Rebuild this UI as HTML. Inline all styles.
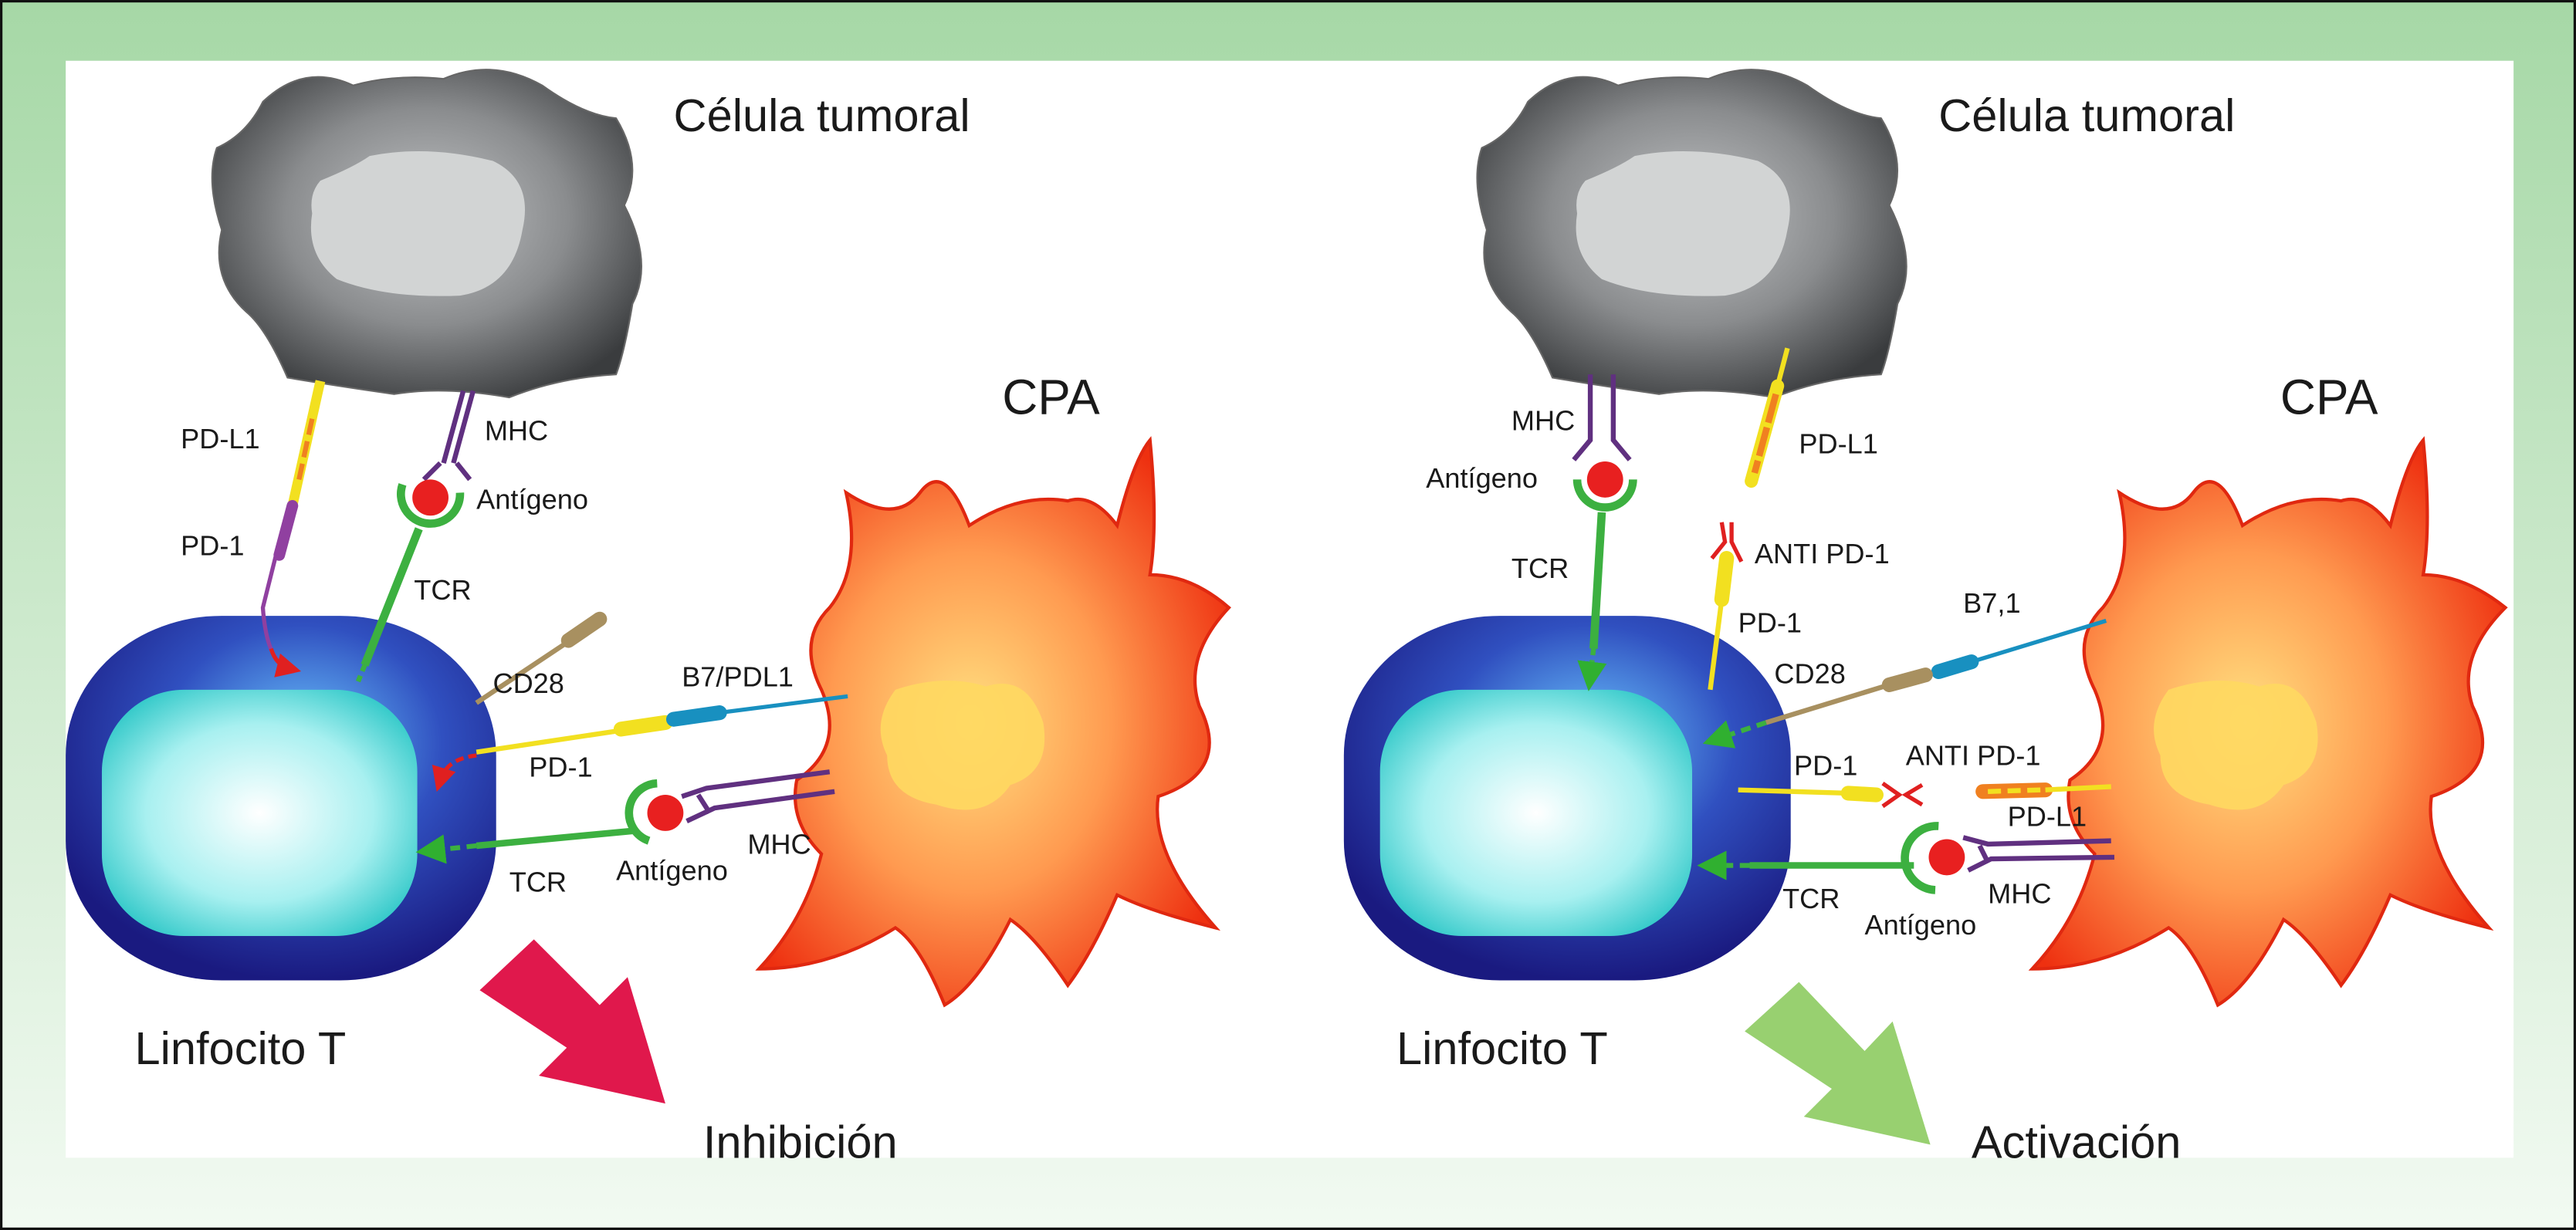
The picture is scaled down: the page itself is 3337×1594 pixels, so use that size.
<!DOCTYPE html>
<html><head><meta charset="utf-8"><style>
html,body{margin:0;padding:0;background:#fff}
svg{display:block}
text{font-family:"Liberation Sans",sans-serif;fill:#1a1a1a}
</style></head><body>
<svg width="3337" height="1594" viewBox="0 0 1568 749" preserveAspectRatio="none" xmlns="http://www.w3.org/2000/svg">
<defs>
<linearGradient id="bg" x1="0" y1="0" x2="0" y2="1"><stop offset="0" stop-color="#a6d8a6"/><stop offset="1" stop-color="#f2faf2"/></linearGradient>
<radialGradient id="tum" cx="0.5" cy="0.45" r="0.6"><stop offset="0" stop-color="#c4c6c8"/><stop offset="0.55" stop-color="#8a8c8e"/><stop offset="1" stop-color="#3a3c3e"/></radialGradient>
<radialGradient id="tc" cx="0.55" cy="0.35" r="0.65"><stop offset="0" stop-color="#6cc8ff"/><stop offset="0.5" stop-color="#3050c0"/><stop offset="1" stop-color="#1a1a80"/></radialGradient>
<radialGradient id="tn" cx="0.5" cy="0.5" r="0.6"><stop offset="0" stop-color="#ffffff"/><stop offset="0.6" stop-color="#a8f0f0"/><stop offset="1" stop-color="#30c8c8"/></radialGradient>
<radialGradient id="cpa" cx="0.45" cy="0.5" r="0.6"><stop offset="0" stop-color="#ffe080"/><stop offset="0.5" stop-color="#ff9a50"/><stop offset="1" stop-color="#ee3010"/></radialGradient>
<marker id="ar" markerWidth="6" markerHeight="6" refX="3" refY="3" orient="auto"><path d="M0,0L6,3L0,6z" fill="#e02020"/></marker>
<marker id="ag" markerWidth="6" markerHeight="6" refX="3" refY="3" orient="auto"><path d="M0,0L6,3L0,6z" fill="#30b030"/></marker>
</defs>
<rect x="0" y="0" width="1568" height="749" fill="url(#bg)" stroke="#111" stroke-width="3"/>
<rect x="40" y="37" width="1490" height="668" fill="#fff"/>

<!-- LEFT PANEL -->
<g id="left">
<path d="M160,62 Q185,38 215,52 Q240,45 270,48 Q300,35 330,52 Q355,70 375,72 Q392,100 380,125 Q398,160 385,185 Q380,215 375,228 Q340,230 310,242 Q270,235 240,240 Q205,235 175,230 Q162,200 150,190 Q128,170 135,140 Q125,110 132,90 Q150,82 160,62Z" fill="url(#tum)" stroke="#666" stroke-width="1"/>
<path d="M195,110 Q215,102 225,95 Q260,88 300,98 Q325,110 318,140 Q312,175 280,180 Q235,182 205,170 Q186,155 190,130 Q188,118 195,110Z" fill="#d2d4d4"/>
<text x="410" y="80" font-size="28">Célula tumoral</text>
<text x="610" y="252" font-size="30">CPA</text>
<rect x="40" y="375" width="262" height="222" rx="95" ry="85" fill="url(#tc)"/>
<rect x="62" y="420" width="192" height="150" rx="50" fill="url(#tn)"/>
<text x="82" y="648" font-size="28">Linfocito T</text>
<path d="M292,603 L325,572 L365,612 L382,595 L405,672 L328,655 L345,638 Z" fill="#e0184c"/>
<text x="428" y="705" font-size="28">Inhibición</text>
<path d="M515,300 Q545,320 560,300 Q575,280 590,320 Q620,300 650,305 Q665,300 680,320 Q690,280 700,268 Q705,320 700,350 Q725,350 748,370 Q720,400 730,430 Q750,470 705,485 Q700,520 740,565 Q700,555 680,545 Q665,580 650,600 Q630,570 615,560 Q595,600 575,612 Q560,575 545,565 Q505,590 462,590 Q490,560 500,520 Q480,500 485,475 Q515,455 500,420 Q485,390 505,370 Q525,345 515,300Z" fill="url(#cpa)" stroke="#e02810" stroke-width="2"/>
<path d="M545,420 Q575,410 600,418 Q625,410 635,440 Q640,470 615,478 Q600,500 570,490 Q540,485 540,460 Q530,440 545,420Z" fill="#ffd860" opacity="0.9"/>
<!-- PD-L1 / PD-1 -->
<line x1="195" y1="232" x2="178" y2="308" stroke="#f2e020" stroke-width="6"/>
<line x1="190" y1="255" x2="182" y2="292" stroke="#f08020" stroke-width="3" stroke-dasharray="10,4"/>
<line x1="178" y1="308" x2="170" y2="338" stroke="#9040a0" stroke-width="7" stroke-linecap="round"/>
<path d="M168,338 L160,370 Q162,398 172,405" stroke="#9040a0" stroke-width="2.5" fill="none"/>
<path d="M165,395 Q168,405 176,407" stroke="#e02020" stroke-width="2.5" fill="none" marker-end="url(#ar)"/>
<text x="110" y="273" font-size="17">PD-L1</text>
<text x="110" y="338" font-size="17">PD-1</text>
<!-- MHC / antigen / TCR top -->
<path d="M282,238 L270,282 M288,238 L276,282" stroke="#603080" stroke-width="3"/>
<path d="M268,282 L258,292 M278,282 L286,292" stroke="#603080" stroke-width="3"/>
<text x="295" y="268" font-size="17">MHC</text>
<circle cx="262" cy="303" r="11" fill="#e82020"/>
<path d="M245,295 A18,18 0 1 0 280,300" stroke="#3cb040" stroke-width="5" fill="none"/>
<text x="290" y="310" font-size="17">Antígeno</text>
<line x1="255" y1="322" x2="222" y2="405" stroke="#3cb040" stroke-width="5"/>
<line x1="222" y1="405" x2="218" y2="415" stroke="#3cb040" stroke-width="3" stroke-dasharray="4,3"/>
<text x="252" y="365" font-size="17">TCR</text>
<!-- CD28 -->
<line x1="290" y1="428" x2="350" y2="388" stroke="#a89060" stroke-width="3"/>
<line x1="346" y1="390" x2="365" y2="377" stroke="#a89060" stroke-width="9" stroke-linecap="round"/>
<text x="300" y="422" font-size="17">CD28</text>
<!-- PD-1 / B7 -->
<line x1="290" y1="458" x2="410" y2="440" stroke="#f2e020" stroke-width="3"/>
<line x1="378" y1="444" x2="405" y2="440" stroke="#f2e020" stroke-width="9" stroke-linecap="round"/>
<line x1="410" y1="438" x2="438" y2="434" stroke="#1890c0" stroke-width="9" stroke-linecap="round"/>
<line x1="438" y1="434" x2="516" y2="424" stroke="#1890c0" stroke-width="2.5"/>
<path d="M290,460 Q272,462 268,475" stroke="#e02020" stroke-width="2.5" fill="none" marker-end="url(#ar)" stroke-dasharray="5,3"/>
<text x="415" y="418" font-size="17">B7/PDL1</text>
<text x="322" y="473" font-size="17">PD-1</text>
<!-- TCR bottom -->
<line x1="385" y1="506" x2="290" y2="515" stroke="#3cb040" stroke-width="4"/>
<line x1="290" y1="515" x2="262" y2="518" stroke="#3cb040" stroke-width="3" stroke-dasharray="6,4" marker-end="url(#ag)"/>
<circle cx="405" cy="495" r="11" fill="#e82020"/>
<path d="M395,512 A18,18 0 0 1 400,477" stroke="#3cb040" stroke-width="5" fill="none"/>
<path d="M415,485 L430,480 L505,470 M418,500 L435,492 L508,482 M425,484 L432,495" stroke="#603080" stroke-width="3" fill="none"/>
<text x="375" y="536" font-size="17">Antígeno</text>
<text x="455" y="520" font-size="17">MHC</text>
<text x="310" y="543" font-size="17">TCR</text>
</g>

<!-- RIGHT PANEL -->
<path d="M930,62 Q955,38 985,52 Q1010,45 1040,48 Q1070,35 1100,52 Q1125,70 1145,72 Q1162,100 1150,125 Q1168,160 1155,185 Q1150,215 1145,228 Q1110,230 1080,242 Q1040,235 1010,240 Q975,235 945,230 Q932,200 920,190 Q898,170 905,140 Q895,110 902,90 Q920,82 930,62Z" fill="url(#tum)" stroke="#666" stroke-width="1"/>
<path d="M965,110 Q985,102 995,95 Q1030,88 1070,98 Q1095,110 1088,140 Q1082,175 1050,180 Q1005,182 975,170 Q956,155 960,130 Q958,118 965,110Z" fill="#d2d4d4"/>
<text x="1180" y="80" font-size="28">Célula tumoral</text>
<text x="1388" y="252" font-size="30">CPA</text>
<rect x="818" y="375" width="272" height="222" rx="95" ry="85" fill="url(#tc)"/>
<rect x="840" y="420" width="190" height="150" rx="50" fill="url(#tn)"/>
<text x="850" y="648" font-size="28">Linfocito T</text>
<path d="M1062,628 L1095,598 L1135,640 L1152,622 L1175,697 L1098,680 L1115,663 Z" fill="#98d070"/>
<text x="1200" y="705" font-size="28">Activación</text>
<path d="M1290,300 Q1320,320 1335,300 Q1350,280 1365,320 Q1395,300 1425,305 Q1440,300 1455,320 Q1465,280 1475,268 Q1480,320 1475,350 Q1500,350 1525,370 Q1495,400 1505,430 Q1525,470 1480,485 Q1475,520 1515,565 Q1475,555 1455,545 Q1440,580 1425,600 Q1405,570 1390,560 Q1370,600 1350,612 Q1335,575 1320,565 Q1280,590 1237,590 Q1265,560 1275,520 Q1255,500 1260,475 Q1290,455 1275,420 Q1260,390 1280,370 Q1300,345 1290,300Z" fill="url(#cpa)" stroke="#e02810" stroke-width="2"/>
<path d="M1320,420 Q1350,410 1375,418 Q1400,410 1410,440 Q1415,470 1390,478 Q1375,500 1345,490 Q1315,485 1315,460 Q1305,440 1320,420Z" fill="#ffd860" opacity="0.9"/>
<!-- MHC/antigen/TCR -->
<path d="M968,228 L968,268 L958,280 M982,228 L982,268 L992,280" stroke="#603080" stroke-width="3" fill="none"/>
<text x="920" y="262" font-size="17">MHC</text>
<circle cx="977" cy="292" r="11" fill="#e82020"/>
<path d="M960,292 A17,17 0 0 0 994,292" stroke="#3cb040" stroke-width="5" fill="none"/>
<text x="868" y="297" font-size="17">Antígeno</text>
<line x1="975" y1="312" x2="970" y2="395" stroke="#3cb040" stroke-width="5"/>
<line x1="970" y1="395" x2="968" y2="412" stroke="#3cb040" stroke-width="3" stroke-dasharray="4,3" marker-end="url(#ag)"/>
<text x="920" y="352" font-size="17">TCR</text>
<!-- PD-L1 -->
<line x1="1088" y1="212" x2="1082" y2="235" stroke="#f2e020" stroke-width="3"/>
<line x1="1082" y1="235" x2="1066" y2="293" stroke="#f2e020" stroke-width="8" stroke-linecap="round"/>
<line x1="1081" y1="240" x2="1068" y2="288" stroke="#f08020" stroke-width="4" stroke-dasharray="18,3"/>
<text x="1095" y="276" font-size="17">PD-L1</text>
<!-- anti PD-1 and PD-1 -->
<path d="M1048,318 L1050,330 L1042,340 M1054,318 L1054,330 L1060,342" stroke="#e02020" stroke-width="2.5" fill="none"/>
<text x="1068" y="343" font-size="17">ANTI PD-1</text>
<line x1="1051" y1="340" x2="1048" y2="365" stroke="#f2e020" stroke-width="9" stroke-linecap="round"/>
<line x1="1048" y1="365" x2="1041" y2="420" stroke="#f2e020" stroke-width="3"/>
<text x="1058" y="385" font-size="17">PD-1</text>
<!-- B7,1 / CD28 -->
<line x1="1282" y1="378" x2="1200" y2="403" stroke="#1890c0" stroke-width="2.5"/>
<line x1="1200" y1="403" x2="1180" y2="409" stroke="#1890c0" stroke-width="9" stroke-linecap="round"/>
<line x1="1172" y1="411" x2="1150" y2="417" stroke="#a89060" stroke-width="9" stroke-linecap="round"/>
<line x1="1150" y1="417" x2="1075" y2="440" stroke="#a89060" stroke-width="3"/>
<line x1="1075" y1="440" x2="1045" y2="450" stroke="#3cb040" stroke-width="3" stroke-dasharray="6,4" marker-end="url(#ag)"/>
<text x="1195" y="373" font-size="17">B7,1</text>
<text x="1080" y="416" font-size="17">CD28</text>
<!-- PD-1 with anti / PD-L1 -->
<line x1="1058" y1="481" x2="1125" y2="483" stroke="#f2e020" stroke-width="3"/>
<line x1="1125" y1="483" x2="1142" y2="484" stroke="#f2e020" stroke-width="9" stroke-linecap="round"/>
<path d="M1146,477 L1156,484 L1146,491 M1170,478 L1160,484 L1170,490" stroke="#e02020" stroke-width="2.5" fill="none"/>
<line x1="1207" y1="482" x2="1245" y2="481" stroke="#f08020" stroke-width="9" stroke-linecap="round"/>
<line x1="1210" y1="482" x2="1242" y2="481" stroke="#f2e020" stroke-width="3" stroke-dasharray="8,4"/>
<line x1="1245" y1="481" x2="1285" y2="479" stroke="#f2e020" stroke-width="3"/>
<text x="1092" y="472" font-size="17">PD-1</text>
<text x="1160" y="466" font-size="17">ANTI PD-1</text>
<text x="1222" y="503" font-size="17">PD-L1</text>
<!-- TCR bottom -->
<line x1="1165" y1="527" x2="1065" y2="527" stroke="#3cb040" stroke-width="4"/>
<line x1="1065" y1="527" x2="1042" y2="527" stroke="#3cb040" stroke-width="3" stroke-dasharray="6,4" marker-end="url(#ag)"/>
<circle cx="1185" cy="522" r="11" fill="#e82020"/>
<path d="M1178,542 A18,18 0 0 1 1180,503" stroke="#3cb040" stroke-width="5" fill="none"/>
<path d="M1195,510 L1210,514 L1285,512 M1198,530 L1212,523 L1287,522 M1205,515 L1210,525" stroke="#603080" stroke-width="3" fill="none"/>
<text x="1085" y="553" font-size="17">TCR</text>
<text x="1135" y="569" font-size="17">Antígeno</text>
<text x="1210" y="550" font-size="17">MHC</text>
</svg>
</body></html>
